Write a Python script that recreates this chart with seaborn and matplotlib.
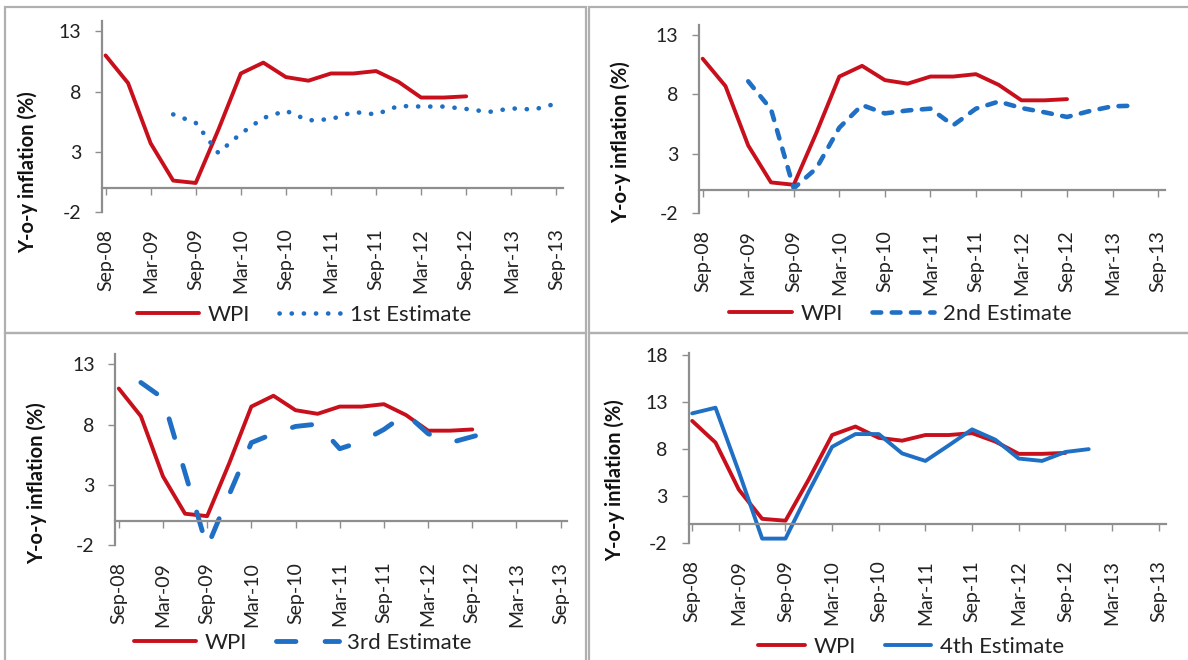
print('drawing inflation estimate panels')

import numpy as np
import pandas as pd
import seaborn as sns
import matplotlib.pyplot as plt
from matplotlib.patches import Rectangle

# quarterly categories, Sep-08 .. Sep-13
quarters = ['Sep-08', 'Dec-08', 'Mar-09', 'Jun-09', 'Sep-09', 'Dec-09', 'Mar-10',
            'Jun-10', 'Sep-10', 'Dec-10', 'Mar-11', 'Jun-11', 'Sep-11', 'Dec-11',
            'Mar-12', 'Jun-12', 'Sep-12', 'Dec-12', 'Mar-13', 'Jun-13', 'Sep-13']
tick_labels = quarters[::2]

# y-o-y inflation (%), None = no value
wpi = [11.0, 8.7, 3.7, 0.6, 0.4, 4.8, 9.5, 10.4, 9.2, 8.9, 9.5, 9.5, 9.7, 8.8,
       7.5, 7.5, 7.6, None, None, None, None]
est_1st = [None, None, None, 6.1, 5.4, 2.9, 4.5, 5.8, 6.4, 5.6, 5.7, 6.3, 6.1, 6.8,
           6.75, 6.75, 6.55, 6.3, 6.6, 6.5, 7.0]
est_2nd = [None, None, 9.1, 6.75, 0.1, 1.8, 5.2, 7.1, 6.4, 6.65, 6.8, 5.4, 6.8, 7.4,
           6.85, 6.5, 6.1, 6.6, 7.0, 7.05, None]
est_3rd = [None, 11.5, 10.2, 4.0, -2.2, 2.2, 6.5, 7.25, 7.85, 8.05, 6.0, 6.6, 7.6, 8.9,
           7.25, 6.5, 7.0, 7.5, None, None, None]
est_4th = [11.8, 12.4, 5.6, -1.5, -1.5, 3.5, 8.25, 9.6, 9.6, 7.55, 6.75, 8.4, 10.1, 9.0,
           7.0, 6.75, 7.7, 8.0, None, None, None]

estimates = [est_1st, est_2nd, est_3rd, est_4th]
est_names = ['1st Estimate', '2nd Estimate', '3rd Estimate', '4th Estimate']
y_ticks = [[-2, 3, 8, 13]] * 3 + [[-2, 3, 8, 13, 18]]
y_tops = [13.85, 13.85, 13.85, 18.2]

red = '#C8101C'
blue = '#1F6FC5'
grey = '#8E8E8E'

# line styles of the estimate series
est_styles = [dict(linestyle=(0, (0.05, 2.6)), linewidth=3.3, dash_capstyle='round'),
              dict(linestyle=(0, (1.9, 2.3)), linewidth=3.3, dash_capstyle='round'),
              dict(linestyle=(0, (4.0, 6.0)), linewidth=3.5, dash_capstyle='round'),
              dict(linestyle='-', linewidth=2.8)]

# panel geometry (figure fractions)
axes_pos = [[0.0860, 0.6790, 0.3880, 0.2890],
            [0.5886, 0.6768, 0.3920, 0.2856],
            [0.0972, 0.1742, 0.3803, 0.2891],
            [0.5797, 0.1768, 0.4015, 0.2882]]
ylabel_pos = [(0.0236, 0.7386), (0.5223, 0.7840), (0.0311, 0.2680), (0.5177, 0.2727)]
legend_pos = [(0.256, 0.523), (0.758, 0.524), (0.255, 0.026), (0.767, 0.020)]
boxes = [(5, 7, 581, 326), (589, 7, 605, 326), (5, 333, 581, 335), (589, 333, 605, 335)]

sns.set_theme(style='white')
plt.rcParams['font.family'] = ['Lato', 'DejaVu Sans']
plt.rcParams['axes.unicode_minus'] = False

fig = plt.figure(figsize=(11.88, 6.6), dpi=100)

# panel boxes
for (bx, by, bw, bh) in boxes:
    fig.add_artist(Rectangle((bx / 1188, 1 - (by + bh) / 660), bw / 1188, bh / 660,
                             transform=fig.transFigure, fill=False,
                             edgecolor='#B0B0B0', linewidth=1.6))

x = np.arange(len(quarters))

for i in range(4):
    ax = fig.add_axes(axes_pos[i])
    df = pd.DataFrame({'q': x, 'WPI': wpi, 'est': estimates[i]}).astype(float)

    d_wpi = df[['q', 'WPI']].dropna()
    sns.lineplot(x=d_wpi['q'], y=d_wpi['WPI'], ax=ax, color=red, linewidth=2.8,
                 label='WPI')
    d_est = df[['q', 'est']].dropna()
    sns.lineplot(x=d_est['q'], y=d_est['est'], ax=ax, color=blue,
                 label=est_names[i], **est_styles[i])
    for ln in ax.get_lines():
        ln.set_clip_on(False)

    ax.set_xlim(-0.15, 20.3)
    ax.set_ylim(-2, y_tops[i])
    ax.set_yticks(y_ticks[i])
    ax.set_xlabel('')
    ax.set_ylabel('')

    # axis lines: y axis on the left, category axis crossing at zero
    for s in ['top', 'right']:
        ax.spines[s].set_visible(False)
    ax.spines['left'].set_color(grey)
    ax.spines['left'].set_linewidth(1.6)
    ax.spines['bottom'].set_position(('data', 0))
    ax.spines['bottom'].set_color(grey)
    ax.spines['bottom'].set_linewidth(1.6)
    ax.set_xticks(x[::2])
    ax.tick_params(axis='x', direction='out', length=5, width=1, color=grey,
                   labelbottom=False, bottom=True)
    ax.tick_params(axis='y', direction='out', length=5, width=1, color=grey,
                   pad=10, labelsize=14, labelcolor='#222222', left=True)

    # category labels sit below the plot area
    sec = ax.secondary_xaxis('bottom')
    sec.set_xticks(x[::2], tick_labels, rotation=90)
    sec.tick_params(length=0, pad=12, labelsize=14, labelcolor='#222222')
    sec.spines['bottom'].set_visible(False)

    fig.text(ylabel_pos[i][0], ylabel_pos[i][1], 'Y-o-y inflation (%)', rotation=90,
             ha='center', va='center', fontsize=14.5, fontweight='bold', color='#111111')

    ax.legend(loc='center', bbox_to_anchor=legend_pos[i], bbox_transform=fig.transFigure,
              ncol=2, frameon=False, fontsize=16, handlelength=2.8 if i < 3 else 2.1,
              handletextpad=0.4, columnspacing=1.3, labelcolor='#222222')

plt.savefig('out.png', dpi=100)
plt.close('all')
